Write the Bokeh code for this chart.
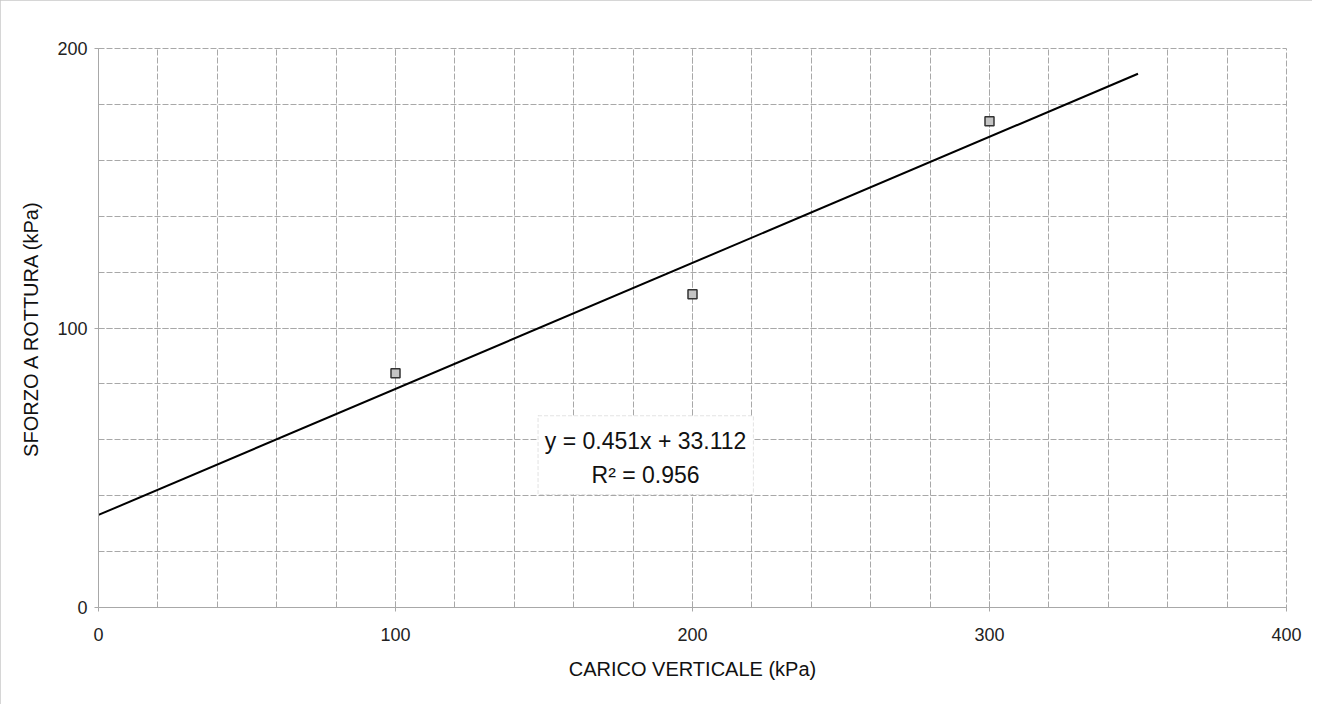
from bokeh.plotting import figure
from bokeh.models import Range1d, SingleIntervalTicker, Label, BoxAnnotation
from bokeh.embed import file_html
from bokeh.resources import INLINE

# Data
carico = [100, 200, 300]            # CARICO VERTICALE (kPa)
sforzo = [83.8, 112.1, 174.0]       # SFORZO A ROTTURA (kPa)
trend_x = [0, 350]
slope = 0.451
intercept = 33.112
r2 = 0.956
trend_y = [slope * x + intercept for x in trend_x]

FONT = "Liberation Sans"
GRID = "#a8a8a8"

p = figure(width=1312, height=704, output_backend="svg", toolbar_location=None,
           x_range=Range1d(0, 400), y_range=Range1d(0, 200),
           min_border_left=98, min_border_right=26, min_border_top=48, min_border_bottom=97)
p.styles = {"outline": "1px solid #c8c8c8", "outline-offset": "-1px"}
p.background_fill_color = "white"
p.border_fill_color = "white"
p.outline_line_color = GRID
p.outline_line_dash = "6 2"

for ax in (p.xaxis[0], p.yaxis[0]):
    ax.ticker = SingleIntervalTicker(interval=100, num_minor_ticks=5)
    ax.axis_line_color = GRID
    ax.major_tick_line_color = GRID
    ax.major_tick_out = 4
    ax.major_tick_in = 0
    ax.minor_tick_line_color = None
    ax.major_label_text_font = FONT
    ax.major_label_text_font_size = "18px"
    ax.major_label_text_color = "#222222"
    ax.axis_label_text_font = FONT
    ax.axis_label_text_font_size = "20px"
    ax.axis_label_text_font_style = "normal"
    ax.axis_label_text_color = "#111111"

p.xaxis.axis_label = "CARICO VERTICALE (kPa)"
p.yaxis.axis_label = "SFORZO A ROTTURA (kPa)"
p.xaxis.major_label_standoff = 16
p.xaxis.axis_label_standoff = 14
p.yaxis.major_label_standoff = 7
p.yaxis.axis_label_standoff = 12

for g in (p.xgrid[0], p.ygrid[0]):
    g.grid_line_color = GRID
    g.grid_line_dash = "6 2"
    g.grid_line_width = 1
    g.minor_grid_line_color = GRID
    g.minor_grid_line_dash = "6 2"
    g.minor_grid_line_width = 1

p.line(trend_x, trend_y, line_color="black", line_width=2)
p.scatter(carico, sforzo, marker="square", size=9, fill_color="#c4c4c4",
          line_color="#333333", line_width=1.5)

box = BoxAnnotation(left=148, right=220.5, bottom=40.4, top=68.6,
                    fill_color="white", fill_alpha=1.0,
                    line_color="#a0a0a0", line_dash="4 2", line_width=1)
p.add_layout(box)
p.add_layout(Label(x=184.2, y=59.6, text=f"y = {slope:.3f}x + {intercept:.3f}",
                   text_align="center", text_baseline="middle",
                   text_font=FONT, text_font_size="23px", text_color="#111111"))
p.add_layout(Label(x=184.2, y=47.5, text=f"R² = {r2:.3f}",
                   text_align="center", text_baseline="middle",
                   text_font=FONT, text_font_size="23px", text_color="#111111"))

open("out.html", "w").write(file_html(p, INLINE))
